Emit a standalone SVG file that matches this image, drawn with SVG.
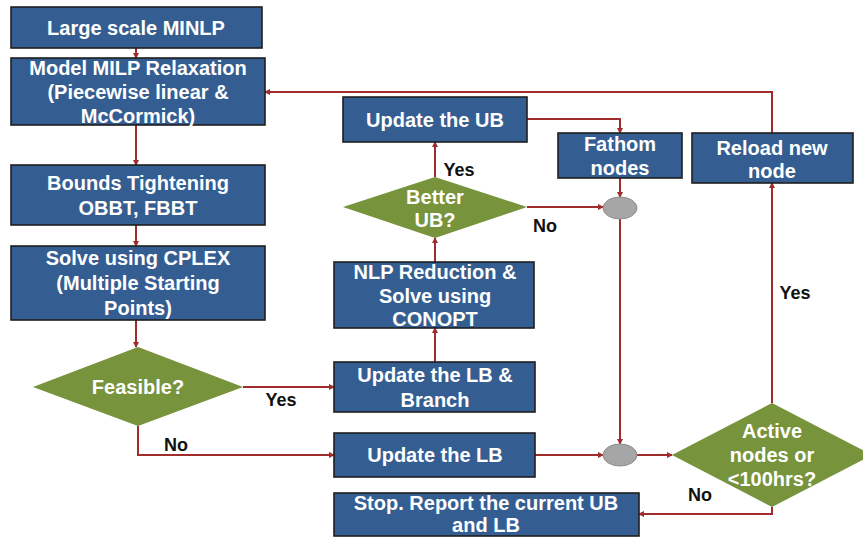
<svg xmlns="http://www.w3.org/2000/svg" width="863" height="537" viewBox="0 0 863 537">
<defs>
<style>
.box{fill:#345E92;stroke:#1E1E1E;stroke-width:1.6}
.dia{fill:#77933C}
.oval{fill:#A6A6A6;stroke:#8C8C8C;stroke-width:1}
.t{font-family:"Liberation Sans",Arial,sans-serif;font-weight:bold;font-size:20px;fill:#FFFFFF;text-anchor:middle}
.l{font-family:"Liberation Sans",Arial,sans-serif;font-weight:bold;font-size:18px;fill:#111111;text-anchor:middle}
.c{fill:none;stroke:#A02C2C;stroke-width:2}
</style>
<marker id="ah" markerWidth="6" markerHeight="6" refX="5" refY="3" orient="auto" markerUnits="userSpaceOnUse">
<path d="M0,0 L6,3 L0,6 Z" fill="#A02C2C"/>
</marker>
</defs>
<rect width="863" height="537" fill="#FFFFFF"/>
<g id="connectors">
<path class="c" d="M136,48 L136,58" marker-end="url(#ah)"/>
<path class="c" d="M136,125 L136,165" marker-end="url(#ah)"/>
<path class="c" d="M136,225 L136,246" marker-end="url(#ah)"/>
<path class="c" d="M136,320 L136,347" marker-end="url(#ah)"/>
<path class="c" d="M243,387 L334,387" marker-end="url(#ah)"/>
<path class="c" d="M138,426 L138,455 L334,455" marker-end="url(#ah)"/>
<path class="c" d="M435,362 L435,328" marker-end="url(#ah)"/>
<path class="c" d="M435,262 L435,238" marker-end="url(#ah)"/>
<path class="c" d="M435,177 L435,142" marker-end="url(#ah)"/>
<path class="c" d="M527,119 L620,119 L620,133" marker-end="url(#ah)"/>
<path class="c" d="M620,178 L620,197" marker-end="url(#ah)"/>
<path class="c" d="M527,207 L603,207" marker-end="url(#ah)"/>
<path class="c" d="M620,219 L620,444" marker-end="url(#ah)"/>
<path class="c" d="M535,455 L603,455" marker-end="url(#ah)"/>
<path class="c" d="M637,455 L672,455" marker-end="url(#ah)"/>
<path class="c" d="M772,403 L772,183" marker-end="url(#ah)"/>
<path class="c" d="M772,133 L772,92 L265,92" marker-end="url(#ah)"/>
<path class="c" d="M772,507 L772,514 L639,514" marker-end="url(#ah)"/>
</g>
<g id="n-minlp"><rect class="box" x="11" y="7" width="251" height="41"/><text class="t" x="136" y="35">Large scale MINLP</text></g>
<g id="n-milp"><rect class="box" x="11" y="58" width="254" height="67"/><text class="t" x="138" y="75">Model MILP Relaxation</text><text class="t" x="138" y="99">(Piecewise linear &amp;</text><text class="t" x="138" y="123">McCormick)</text></g>
<g id="n-bounds"><rect class="box" x="11" y="165" width="254" height="60"/><text class="t" x="138" y="190">Bounds Tightening</text><text class="t" x="138" y="215">OBBT, FBBT</text></g>
<g id="n-cplex"><rect class="box" x="11" y="246" width="254" height="74"/><text class="t" x="138" y="265">Solve using CPLEX</text><text class="t" x="138" y="290">(Multiple Starting</text><text class="t" x="138" y="315">Points)</text></g>
<g id="n-feasible"><polygon class="dia" points="138,347 243,387 138,426 33,387"/><text class="t" x="138" y="394">Feasible?</text></g>
<g id="n-lbbranch"><rect class="box" x="334" y="362" width="201" height="50"/><text class="t" x="435" y="382">Update the LB &amp;</text><text class="t" x="435" y="407">Branch</text></g>
<g id="n-lb"><rect class="box" x="334" y="433" width="201" height="44"/><text class="t" x="435" y="462">Update the LB</text></g>
<g id="n-stop"><rect class="box" x="334" y="493" width="305" height="43"/><text class="t" x="486" y="510">Stop. Report the current UB</text><text class="t" x="486" y="532">and LB</text></g>
<g id="n-nlp"><rect class="box" x="334" y="262" width="200" height="66"/><text class="t" x="435" y="279">NLP Reduction &amp;</text><text class="t" x="435" y="303">Solve using</text><text class="t" x="435" y="326">CONOPT</text></g>
<g id="n-betterub"><polygon class="dia" points="435,177 527,207 435,238 343,207"/><text class="t" x="435" y="204">Better</text><text class="t" x="435" y="227">UB?</text></g>
<g id="n-ub"><rect class="box" x="343" y="97" width="184" height="45"/><text class="t" x="435" y="127">Update the UB</text></g>
<g id="n-fathom"><rect class="box" x="558" y="133" width="124" height="45"/><text class="t" x="620" y="151">Fathom</text><text class="t" x="620" y="175">nodes</text></g>
<g id="n-reload"><rect class="box" x="692" y="133" width="161" height="50"/><text class="t" x="772" y="155">Reload new</text><text class="t" x="772" y="178">node</text></g>
<g id="n-join1"><ellipse class="oval" cx="620" cy="208" rx="17" ry="11"/></g>
<g id="n-join2"><ellipse class="oval" cx="620" cy="455" rx="17" ry="11"/></g>
<g id="n-active"><polygon class="dia" points="772,403 872,455 772,507 672,455"/><text class="t" x="772" y="438">Active</text><text class="t" x="772" y="462">nodes or</text><text class="t" x="772" y="486">&lt;100hrs?</text></g>
<g id="labels">
<text class="l" x="281" y="406">Yes</text>
<text class="l" x="176" y="451">No</text>
<text class="l" x="459" y="176">Yes</text>
<text class="l" x="545" y="232">No</text>
<text class="l" x="795" y="299">Yes</text>
<text class="l" x="700" y="501">No</text>
</g>
</svg>
